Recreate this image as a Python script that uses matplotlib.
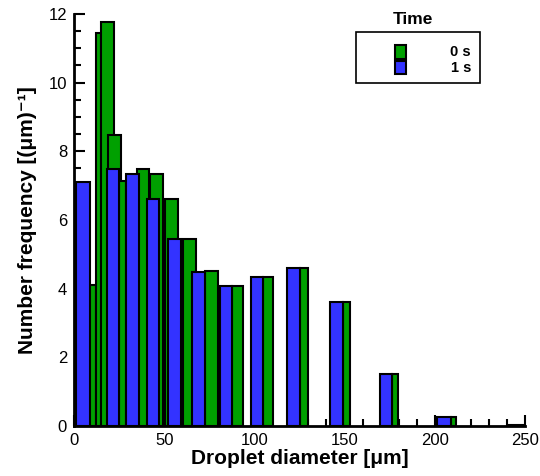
import numpy as np
import matplotlib
matplotlib.use("Agg")
import matplotlib.pyplot as plt
from matplotlib.patches import Rectangle
from matplotlib.ticker import MultipleLocator

plt.rcParams['font.family'] = ['Liberation Sans', 'DejaVu Sans']

# 0 s series: bin left edge, right edge, frequency
t0_left = [8.6, 12.1, 15.2, 18.9, 25.2, 34.8, 42.2, 50.6, 60.6, 72.8, 87.6, 105.0, 125.2, 149.3, 176.5, 209.3, 240.4]
t0_right = [12.1, 15.2, 22.2, 26.3, 28.9, 41.7, 49.1, 57.8, 67.8, 80.0, 93.9, 110.2, 129.6, 152.8, 179.4, 211.7, 250.0]
t0_freq = [4.1, 11.45, 11.77, 8.48, 7.12, 7.49, 7.34, 6.62, 5.45, 4.5, 4.08, 4.33, 4.6, 3.6, 1.5, 0.27, 0.04]

# 1 s series
t1_left = [1.1, 18.2, 28.9, 40.4, 52.4, 65.7, 80.7, 98.2, 118.2, 141.8, 169.6, 201.5]
t1_right = [8.7, 25.0, 36.1, 47.4, 59.3, 72.8, 87.6, 105.0, 125.2, 149.3, 176.5, 209.3]
t1_freq = [7.1, 7.49, 7.34, 6.62, 5.45, 4.48, 4.08, 4.33, 4.6, 3.6, 1.5, 0.27]

green = '#00a000'
blue = '#3333ff'

fig = plt.figure(figsize=(5.4, 4.76), dpi=100)
ax = fig.add_axes([0.137, 0.105, 0.835, 0.866])

l0 = np.array(t0_left)
w0 = np.array(t0_right) - l0
ax.bar(l0, t0_freq, width=w0, align='edge', color=green, edgecolor='black', linewidth=1.5, zorder=2)
l1 = np.array(t1_left)
w1 = np.array(t1_right) - l1
ax.bar(l1, t1_freq, width=w1, align='edge', color=blue, edgecolor='black', linewidth=1.5, zorder=3)

ax.set_xlim(0, 250)
ax.set_ylim(0, 12)
ax.spines['top'].set_visible(False)
ax.spines['right'].set_visible(False)
for s in ['left', 'bottom']:
    ax.spines[s].set_linewidth(2)
    ax.spines[s].set_zorder(5)
ax.xaxis.set_major_locator(MultipleLocator(50))
ax.xaxis.set_minor_locator(MultipleLocator(10))
ax.yaxis.set_major_locator(MultipleLocator(2))
ax.yaxis.set_minor_locator(MultipleLocator(0.5))
ax.tick_params(which='both', direction='in', width=1.5, labelsize=12, zorder=6)
ax.tick_params(which='major', length=8, pad=5)
ax.tick_params(which='minor', length=5)
ax.tick_params(axis='x', which='both', top=False)
ax.tick_params(axis='y', which='both', right=False)

ax.set_xlabel('Droplet diameter [μm]', fontsize=15, fontweight='bold', labelpad=1)
ax.set_ylabel('Number frequency [(μm)⁻¹]', fontsize=15, fontweight='bold', labelpad=8)

# legend drawn by hand
fig.text(413 / 540, 1 - 20 / 476, 'Time', fontsize=12.5, fontweight='bold', ha='center', va='center')
fig.patches.append(Rectangle((356 / 540, 1 - 83 / 476), 124 / 540, 51 / 476, transform=fig.transFigure,
                             facecolor='white', edgecolor='black', linewidth=1.2))
for i, (c, lab) in enumerate([(green, '0 s'), (blue, '1 s')]):
    yc = 1 - (52 + i * 16) / 476
    fig.patches.append(Rectangle((395 / 540, yc - 6.5 / 476), 11 / 540, 13 / 476, transform=fig.transFigure,
                                 facecolor=c, edgecolor='black', linewidth=1.5, zorder=5))
    fig.text(471 / 540, yc, lab, fontsize=10.5, fontweight='bold', ha='right', va='center')

fig.savefig('out.png', dpi=100)
